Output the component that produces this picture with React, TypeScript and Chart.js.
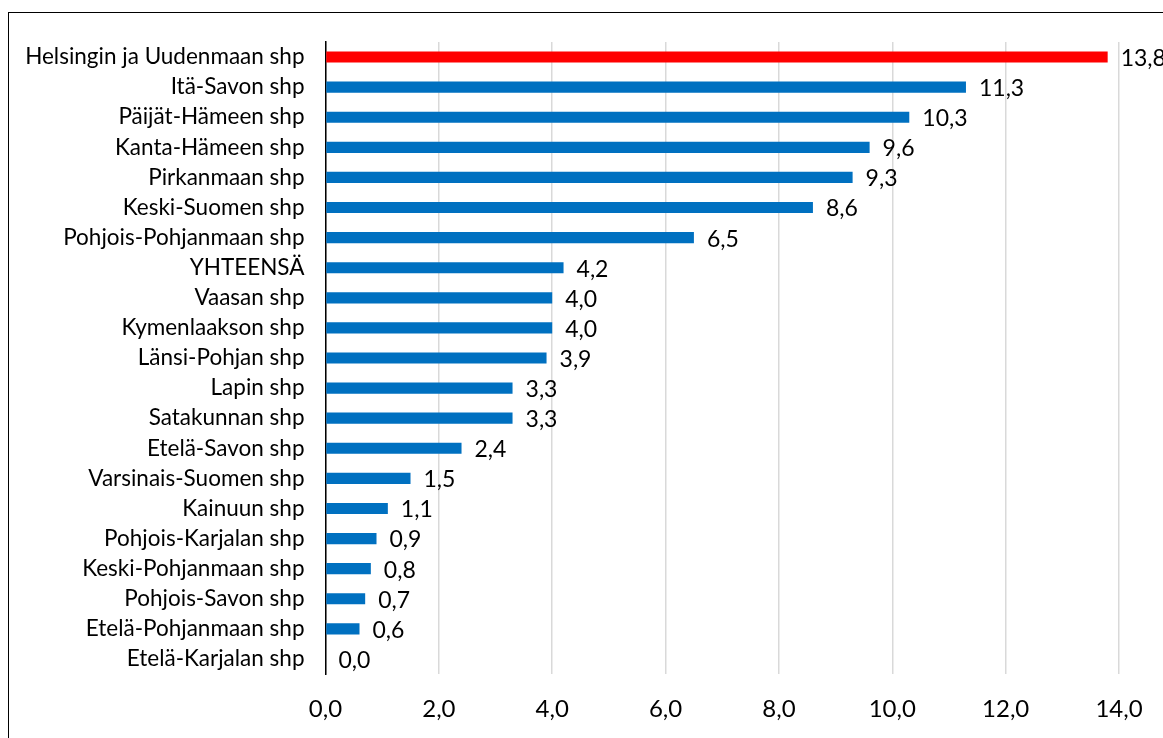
import React, { useEffect, useRef } from "react";
import { Chart, registerables } from "chart.js";

Chart.register(...registerables);

const categories: string[] = [
  "Helsingin ja Uudenmaan shp",
  "Itä-Savon shp",
  "Päijät-Hämeen shp",
  "Kanta-Hämeen shp",
  "Pirkanmaan shp",
  "Keski-Suomen shp",
  "Pohjois-Pohjanmaan shp",
  "YHTEENSÄ",
  "Vaasan shp",
  "Kymenlaakson shp",
  "Länsi-Pohjan shp",
  "Lapin shp",
  "Satakunnan shp",
  "Etelä-Savon shp",
  "Varsinais-Suomen shp",
  "Kainuun shp",
  "Pohjois-Karjalan shp",
  "Keski-Pohjanmaan shp",
  "Pohjois-Savon shp",
  "Etelä-Pohjanmaan shp",
  "Etelä-Karjalan shp",
];

const values: number[] = [
  13.8, 11.3, 10.3, 9.6, 9.3, 8.6, 6.5, 4.2, 4.0, 4.0, 3.9, 3.3, 3.3, 2.4, 1.5,
  1.1, 0.9, 0.8, 0.7, 0.6, 0.0,
];

const highlightIndex = 0;
const xMin = 0;
const xMax = 14;
const xStep = 2;

const FONT = "Lato, 'Open Sans', sans-serif";
const fmt = (v: number) => v.toFixed(1).replace(".", ",");

const dataLabelPlugin = {
  id: "dataLabels",
  afterDatasetsDraw(chart: any) {
    const { ctx } = chart;
    const meta = chart.getDatasetMeta(0);
    ctx.save();
    ctx.font = `23px ${FONT}`;
    ctx.fillStyle = "#000000";
    ctx.textAlign = "left";
    ctx.textBaseline = "middle";
    meta.data.forEach((bar: any, i: number) => {
      ctx.fillText(fmt(values[i]), bar.x + 13, bar.y + 1.5);
    });
    ctx.restore();
  },
};

export default function App() {
  const canvasRef = useRef<HTMLCanvasElement | null>(null);

  useEffect(() => {
    if (!canvasRef.current) return;
    const chart = new Chart(canvasRef.current, {
      type: "bar",
      data: {
        labels: categories,
        datasets: [
          {
            data: values,
            backgroundColor: values.map((_, i) =>
              i === highlightIndex ? "#FF0000" : "#0070C0"
            ),
            borderWidth: 0,
            barPercentage: 0.37,
            categoryPercentage: 1,
          },
        ],
      },
      options: {
        indexAxis: "y",
        animation: false,
        responsive: false,
        maintainAspectRatio: false,
        layout: { padding: { left: 0, top: 29, right: 80, bottom: 0 } },
        plugins: {
          legend: { display: false },
          tooltip: { enabled: false },
        },
        scales: {
          x: {
            min: xMin,
            max: xMax,
            ticks: {
              stepSize: xStep,
              callback: (v: any) => fmt(Number(v)),
              font: { family: FONT, size: 24 },
              color: "#000000",
              padding: 21,
            },
            grid: {
              color: "#D9D9D9",
              lineWidth: 1.5,
              drawTicks: false,
            },
            border: { display: false },
            afterFit: (scale: any) => {
              scale.height = 89;
              scale.paddingLeft = 0;
              scale.paddingRight = 0;
            },
          },
          y: {
            ticks: {
              font: { family: FONT, size: 22.5 },
              color: "#000000",
              padding: 21,
              autoSkip: false,
            },
            grid: { display: false, drawTicks: false },
            border: { display: true, color: "#000000", width: 1.5 },
            afterFit: (scale: any) => {
              scale.width = 316.5;
              scale.paddingTop = 0;
              scale.paddingBottom = 0;
            },
          },
        },
      },
      plugins: [dataLabelPlugin],
    });
    return () => chart.destroy();
  }, []);

  return (
    <div
      style={{
        position: "fixed",
        left: 0,
        top: 0,
        width: 1163,
        height: 738,
        overflow: "hidden",
        background: "#ffffff",
      }}
    >
      <div
        style={{
          position: "absolute",
          left: 8,
          top: 12,
          width: 1200,
          height: 760,
          border: "1px solid #000000",
          boxSizing: "content-box",
          background: "#ffffff",
        }}
      >
        <canvas
          ref={canvasRef}
          width={1190}
          height={750}
          style={{ position: "absolute", left: 0, top: 0, width: 1190, height: 750 }}
        />
      </div>
    </div>
  );
}
